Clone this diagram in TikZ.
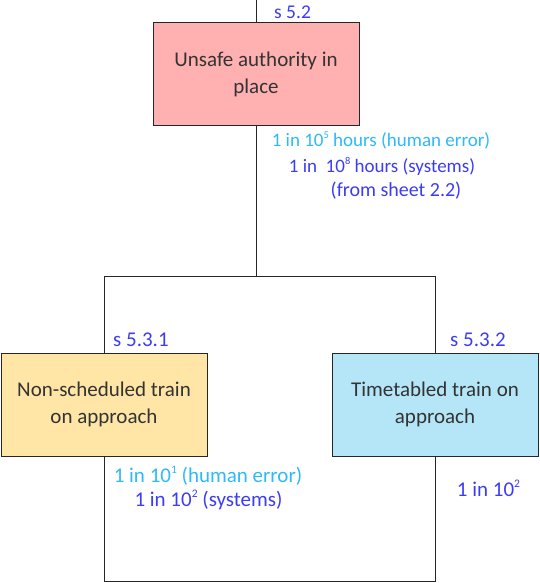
\documentclass[tikz,border=0pt]{standalone}
\usepackage{fontspec}
\setmainfont{Carlito}
\newcommand\supx[1]{\raisebox{0.42em}{\scalebox{0.55}{#1}}}
\definecolor{pinkf}{RGB}{255,176,176}
\definecolor{yellowf}{RGB}{255,230,166}
\definecolor{bluef}{RGB}{180,230,248}
\definecolor{lblue}{RGB}{45,185,250}
\definecolor{dblue}{RGB}{60,60,245}
\begin{document}
\begin{tikzpicture}[x=1pt,y=-1pt,
  box/.style={draw=black!85,line width=0.8pt,minimum width=206pt,minimum height=103pt,align=center,text=black!80,font=\fontsize{21}{27}\selectfont,inner sep=0pt},
  ref/.style={text=dblue,font=\fontsize{19.5}{24}\selectfont,inner sep=0pt},
  lb/.style={text=lblue,font=\fontsize{19}{24}\selectfont,inner sep=0pt},
  db/.style={text=dblue,font=\fontsize{19}{24}\selectfont,inner sep=0pt},
  big/.style={font=\fontsize{21}{25}\selectfont},
  wire/.style={draw=black!85,line width=0.8pt}]
\useasboundingbox (0,0) rectangle (539,583);
\node[box,fill=pinkf] (top) at (256,74) {Unsafe authority in\\place};
\node[box,fill=yellowf] (left) at (104,404.5) {Non-scheduled train\\on approach};
\node[box,fill=bluef] (right) at (435,404.5) {Timetabled train on\\approach};
\coordinate (tin) at (256,0);
\coordinate (jn) at (256,276);
\coordinate (jl) at (104,276);
\coordinate (jr) at (435,276);
\coordinate (bl) at (104,581);
\coordinate (br) at (435,581);
\draw[wire] (tin) -- (top.north);
\draw[wire] (top.south) -- (jn);
\draw[wire] (jl) -- (jr);
\draw[wire] (jl) -- (left.north);
\draw[wire] (jr) -- (right.north);
\draw[wire] (left.south) -- (bl) -- (br) -- (right.south);
\node[ref,anchor=west] (r1) at (274,12) {s 5.2};
\node[ref,big,anchor=west] (r2) at (113,340) {s 5.3.1};
\node[ref,big,anchor=west] (r3) at (450,340) {s 5.3.2};
\node[lb] (p1) at (381,140) {1 in 10\supx{5} hours (human error)};
\node[db] (p2) at (382,166) {1 in\ \ 10\supx{8} hours (systems)};
\node[db,font=\fontsize{20}{24}\selectfont] (p3) at (396,191) {(from sheet 2.2)};
\node[lb,big] (q1) at (208,476) {1 in 10\supx{1} (human error)};
\node[db,big] (q2) at (208.5,500) {1 in 10\supx{2} (systems)};
\node[db,big] (q3) at (488.5,488) {1 in 10\supx{2}};
\end{tikzpicture}
\end{document}
